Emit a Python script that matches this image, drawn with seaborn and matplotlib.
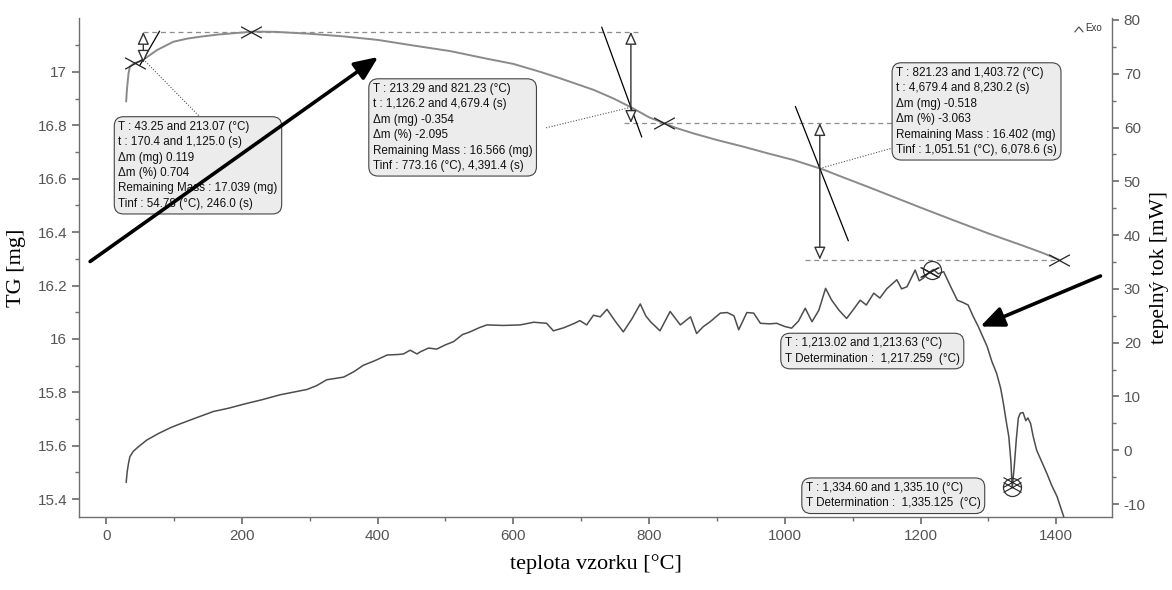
import matplotlib
matplotlib.use("Agg")
import numpy as np
import pandas as pd
import matplotlib.pyplot as plt
import seaborn as sns
from matplotlib.ticker import MultipleLocator, FixedLocator, FuncFormatter
from matplotlib.path import Path

# ---------------- data ----------------
# TG curve: sample temperature [°C] vs. sample mass [mg]
tg_temp = [29.5, 30.5, 32, 33, 35, 40, 43, 50, 60, 75, 99, 120, 139, 165, 188,
           217, 250, 271, 300, 350, 400, 450, 507, 560, 600, 640, 669, 718,
           748, 776, 800, 816, 840, 865, 900, 939, 975, 1013, 1057, 1082,
           1120, 1160, 1200, 1250, 1300, 1350, 1380, 1403.7]
tg_mass = [16.889, 16.93, 16.97, 16.995, 17.02, 17.03, 17.034, 17.04, 17.055,
           17.082, 17.113, 17.125, 17.132, 17.14, 17.145, 17.151, 17.15,
           17.147, 17.143, 17.133, 17.12, 17.10, 17.078, 17.05, 17.03, 17.0,
           16.976, 16.933, 16.90, 16.864, 16.83, 16.814, 16.79, 16.77, 16.745,
           16.72, 16.695, 16.67, 16.634, 16.609, 16.572, 16.532, 16.492, 16.443,
           16.395, 16.35, 16.322, 16.297]

# DSC curve: sample temperature [°C] vs. heat flow [mW]
dsc_temp = [29.5, 31, 33, 35, 40, 47.6, 60, 77, 95, 109, 130, 158, 180, 207,
            230, 256, 280, 296, 310, 325, 340, 350, 365, 379, 395, 414, 430,
            438, 448, 458, 463, 475, 487, 500, 512, 525, 536, 550, 561, 585,
            610, 630, 649, 659, 675, 690, 698, 708, 718, 728, 738, 750, 762,
            775, 787, 795, 802, 816, 831, 846, 861, 870, 880, 890, 905, 915,
            925, 932, 944, 954, 964, 978, 988, 1000, 1010, 1020, 1030, 1040,
            1050, 1060, 1069, 1080, 1091, 1100, 1111, 1120, 1131, 1140, 1150,
            1165, 1172, 1180, 1192, 1198, 1204, 1212, 1219, 1226, 1234, 1244,
            1254, 1262, 1270, 1277, 1285, 1292, 1298, 1305, 1312, 1318, 1322,
            1326, 1330, 1333, 1335, 1338, 1341, 1344, 1347, 1351, 1355, 1358,
            1362, 1366, 1371, 1378, 1386, 1393, 1401, 1406, 1411]
dsc_flow = [-6.0, -4.0, -2.4, -1.2, -0.2, 0.65, 1.9, 3.1, 4.2, 4.9, 5.9, 7.2,
            7.8, 8.7, 9.4, 10.3, 10.9, 11.3, 12.0, 13.1, 13.4, 13.6, 14.6,
            15.8, 16.6, 17.7, 17.8, 17.9, 18.6, 17.9, 18.3, 19.0, 18.8, 19.6,
            20.2, 21.5, 22.0, 22.8, 23.3, 23.2, 23.3, 23.8, 23.6, 22.2, 22.8,
            23.6, 24.1, 23.3, 25.1, 24.8, 26.2, 24.0, 22.0, 24.5, 27.2, 25.0,
            23.9, 22.2, 25.8, 23.3, 24.8, 21.7, 23.0, 23.9, 25.5, 25.6, 25.0,
            22.4, 25.6, 25.5, 23.6, 23.5, 23.6, 23.0, 22.7, 24.0, 26.4, 23.9,
            26.0, 30.1, 27.9, 26.0, 24.5, 26.0, 27.9, 27.0, 29.2, 28.3, 30.0,
            31.7, 30.0, 30.4, 33.5, 31.5, 32.0, 33.0, 33.6, 32.8, 33.2, 30.5,
            27.9, 27.5, 27.0, 25.0, 23.0, 21.0, 19.3, 16.5, 14.3, 11.5, 8.7,
            5.5, 2.5, -2.0, -7.0, -3.0, 2.0, 6.0, 6.9, 7.0, 5.5, 6.0, 5.0,
            2.5, 0.0, -2.0, -4.3, -6.5, -8.6, -10.5, -12.4]

# mass-change steps evaluated on the TG curve
step_start = [43.25, 213.29, 821.23]
step_end = [213.07, 821.23, 1403.72]
step_tinf = [54.78, 773.16, 1051.51]
step_slope = [0.0044, -0.00698, -0.00645]   # tangent slope at Tinf [mg/°C]
step_labels = [
    "T : 43.25 and 213.07 (°C)\nt : 170.4 and 1,125.0 (s)\nΔm (mg) 0.119\n"
    "Δm (%) 0.704\nRemaining Mass : 17.039 (mg)\nTinf : 54.78 (°C), 246.0 (s)",
    "T : 213.29 and 821.23 (°C)\nt : 1,126.2 and 4,679.4 (s)\nΔm (mg) -0.354\n"
    "Δm (%) -2.095\nRemaining Mass : 16.566 (mg)\nTinf : 773.16 (°C), 4,391.4 (s)",
    "T : 821.23 and 1,403.72 (°C)\nt : 4,679.4 and 8,230.2 (s)\nΔm (mg) -0.518\n"
    "Δm (%) -3.063\nRemaining Mass : 16.402 (mg)\nTinf : 1,051.51 (°C), 6,078.6 (s)",
]

# DSC peak evaluations
peak_range = [(1213.02, 1213.63), (1334.60, 1335.10)]
peak_temp = [1217.259, 1335.125]
peak_labels = [
    "T : 1,213.02 and 1,213.63 (°C)\nT Determination :  1,217.259  (°C)",
    "T : 1,334.60 and 1,335.10 (°C)\nT Determination :  1,335.125  (°C)",
]

# axis tick values
tg_ticks = [15.4, 15.6, 15.8, 16.0, 16.2, 16.4, 16.6, 16.8, 17.0]
tg_minor = [15.5, 15.7, 15.9, 16.1, 16.3, 16.5, 16.7, 16.9, 17.1]

# ---------------- layout ----------------
tangent_span = [(-5, 24), (-43, 16), (-36, 42)]
box_tg_pos = [(18, 16.817), (393, 16.959), (1164, 17.019)]
box_tg_anchor = [(138, 16.832), (647, 16.79), (1160, 16.716)]
box_peak_pos = [(1000, 16.006), (1031, 15.464)]

sns.set_theme(style="white")
plt.rcParams["font.family"] = ["Liberation Sans", "DejaVu Sans"]
plt.rcParams["axes.unicode_minus"] = False

fig = plt.figure(figsize=(11.72, 5.90), dpi=100)
ax = fig.add_axes([0.0674, 0.1237, 0.8814, 0.8458])
ax2 = ax.twinx()

tg_df = pd.DataFrame({"T": tg_temp, "m": tg_mass})
dsc_df = pd.DataFrame({"T": dsc_temp, "q": dsc_flow})

sns.lineplot(data=tg_df, x="T", y="m", ax=ax, color="#8a8a8a", lw=1.4,
             sort=False, zorder=2)
sns.lineplot(data=dsc_df, x="T", y="q", ax=ax2, color="#4d4d4d", lw=1.1,
             sort=False, zorder=2)

ax.set_xlim(-40, 1482)
ax.set_ylim(15.333, 17.202)
ax2.set_ylim(-12.42, 80.37)

axis_grey = "#707070"
for a in (ax, ax2):
    a.spines["top"].set_visible(False)
    for side in ("left", "right", "bottom"):
        a.spines[side].set_color(axis_grey)
        a.spines[side].set_linewidth(1.0)
    a.tick_params(which="both", direction="out", colors=axis_grey,
                  labelcolor="#555555", labelsize=11)
    a.tick_params(which="major", length=5)
    a.tick_params(which="minor", length=3)
ax.spines["right"].set_visible(False)
ax2.spines["left"].set_visible(False)
ax2.spines["bottom"].set_visible(False)
ax.tick_params(axis="x", which="both", bottom=True)
ax.tick_params(axis="y", which="both", left=True)
ax2.tick_params(axis="y", which="both", right=True)

fmt = FuncFormatter(lambda v, p: f"{v:g}")
ax.xaxis.set_major_locator(MultipleLocator(200))
ax.xaxis.set_minor_locator(MultipleLocator(100))
ax.yaxis.set_major_locator(FixedLocator(tg_ticks))
ax.yaxis.set_minor_locator(FixedLocator(tg_minor))
ax.yaxis.set_major_formatter(fmt)
ax2.yaxis.set_major_locator(MultipleLocator(10))
ax2.yaxis.set_minor_locator(MultipleLocator(5))
ax2.yaxis.set_major_formatter(fmt)

serif = ["Liberation Serif", "DejaVu Serif"]
ax.set_xlabel("teplota vzorku [°C]", family=serif, fontsize=16, color="black",
              labelpad=8)
ax.set_ylabel("TG [mg]", family=serif, fontsize=16, color="black", labelpad=8)
ax2.set_ylabel("tepelný tok [mW]", family=serif, fontsize=15.5, color="black",
               labelpad=3)

# ---------------- step evaluations on TG ----------------
tgT = ax.transData
x_marker = Path([(-1, -0.55), (1, 0.55), (-1, 0.55), (1, -0.55)],
                [Path.MOVETO, Path.LINETO, Path.MOVETO, Path.LINETO])


def tg_at(t):
    return float(np.interp(t, tg_temp, tg_mass))


# boundary markers
bounds = sorted(set([step_start[0]] + step_end))
ax2.plot(bounds, [tg_at(t) for t in bounds], transform=tgT, ls="none",
         marker=x_marker, ms=15, mec="#222222", mew=0.9, zorder=4)

levels = [(tg_at(s), tg_at(e)) for s, e in zip(step_start, step_end)]
# dashed reference levels
dash_kw = dict(color="#8c8c8c", lw=0.9, ls=(0, (4, 3)), transform=tgT, zorder=3)
ax2.plot([step_tinf[0], step_tinf[1] + 11], [levels[0][1]] * 2, **dash_kw)
ax2.plot([step_tinf[1] - 10, 1170], [levels[1][1]] * 2, **dash_kw)
ax2.plot([step_tinf[2] - 22, step_end[2]], [levels[2][1]] * 2, **dash_kw)

for i, ti in enumerate(step_tinf):
    yi = tg_at(ti)
    lo, hi = tangent_span[i]
    tx = np.array([ti + lo, ti + hi])
    ax2.plot(tx, yi + step_slope[i] * (tx - ti), color="black", lw=0.9,
             transform=tgT, zorder=4)
    top = max(levels[i]) if i == 0 else levels[i][0]
    bottom = min(levels[i]) if i == 0 else levels[i][1]
    ax2.annotate("", xy=(ti, top), xytext=(ti, bottom), xycoords=tgT,
                 textcoords=tgT, annotation_clip=False,
                 arrowprops=dict(arrowstyle="<|-|>,head_length=0.55,head_width=0.25",
                                 fc="white", ec="#333333", lw=1.0,
                                 mutation_scale=14, shrinkA=0, shrinkB=0),
                 zorder=5)
    # dotted callout to the result box
    ax2.plot([ti, box_tg_anchor[i][0]], [yi, box_tg_anchor[i][1]],
             color="#555555", lw=0.8, ls=(0, (1, 1.5)), transform=tgT, zorder=3)

box_kw = dict(boxstyle="round,pad=0.35,rounding_size=0.8", fc="#ececec",
              ec="#444444", lw=0.8)
for (bx, by), txt in zip(box_tg_pos, step_labels):
    ax2.text(bx, by, txt, transform=tgT, ha="left", va="top", fontsize=8.4,
             linespacing=1.38, color="#111111", bbox=box_kw, zorder=6)

# ---------------- DSC peak evaluations ----------------
for (a_t, b_t), pt in zip(peak_range, peak_temp):
    for t in (a_t, b_t):
        ax2.plot([t], [np.interp(t, dsc_temp, dsc_flow)], ls="none",
                 marker=x_marker, ms=13, mec="#222222", mew=0.8, zorder=4)
    ax2.plot([pt], [np.interp(pt, dsc_temp, dsc_flow)], ls="none", marker="o",
             ms=13, mfc="none", mec="#333333", mew=0.9, zorder=4)

for (bx, by), txt in zip(box_peak_pos, peak_labels):
    ax2.text(bx, by, txt, transform=tgT, ha="left", va="top", fontsize=8.4,
             linespacing=1.38, color="#111111", bbox=box_kw, zorder=6)

# ---------------- highlight arrows ----------------
big_arrow = dict(arrowstyle="-|>,head_length=0.65,head_width=0.28", color="black",
                 lw=2.6, mutation_scale=22, shrinkA=0, shrinkB=0)
ax2.annotate("", xy=(400.8, 17.056), xytext=(-23.6, 16.29), xycoords=tgT,
             textcoords=tgT, arrowprops=big_arrow, annotation_clip=False, zorder=7)
ax2.annotate("", xy=(1288, 23.0), xytext=(1465, 32.4), arrowprops=big_arrow,
             annotation_clip=False, zorder=7)

# exothermic direction flag
ax2.plot([0.964, 0.968, 0.972], [0.972, 0.982, 0.972], transform=ax2.transAxes,
         color="#444444", lw=0.8, clip_on=False)
ax2.text(0.974, 0.970, "Exo", transform=ax2.transAxes, fontsize=7,
         color="#333333", ha="left", va="bottom")

fig.savefig("out.png", dpi=100)
